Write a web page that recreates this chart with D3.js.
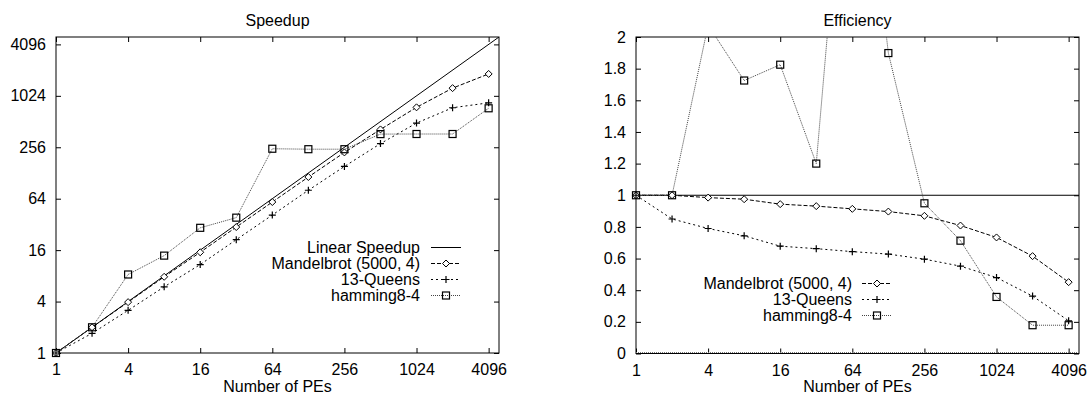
<!DOCTYPE html>
<html>
<head>
<meta charset="utf-8">
<script src="https://cdn.jsdelivr.net/npm/d3@7"></script>
<style>
  body { margin: 0; background: #fff; }
  text { font-family: "Liberation Sans", Arial, Helvetica, sans-serif; font-size: 16px; fill: #000; }
</style>
</head>
<body>
<svg id="chart" width="1087" height="394"></svg>
<script>
// number of processing elements
const pes = [1, 2, 4, 8, 16, 32, 64, 128, 256, 512, 1024, 2048, 4096];

const mandelbrot = [1, 2, 3.94, 7.8, 15.1, 29.8, 58.5, 114.8, 222.7, 414, 751, 1260, 1847];
const queens = [1, 1.7, 3.16, 5.95, 10.85, 21.2, 41.2, 80.4, 152.6, 282.6, 491.5, 743, 848];
const hamming = [1, 2, 8.3, 13.8, 29.2, 38.4, 246, 243, 243, 365, 366, 366, 732];

// ideal line y = x
const linearX = [1, 5000];
const linearY = [1, 5000];

const xTicks = [1, 4, 16, 64, 256, 1024, 4096];
const speedupTicks = [1, 4, 16, 64, 256, 1024, 4096];
const effTicks = [0, 0.2, 0.4, 0.6, 0.8, 1, 1.2, 1.4, 1.6, 1.8, 2];

const seriesNames = ['Mandelbrot (5000, 4)', '13-Queens', 'hamming8-4'];
const seriesData = [mandelbrot, queens, hamming];
const seriesDash = ['4,2', '2,3', '1,1'];
const seriesColor = ['#000', '#000', '#444'];
const seriesMark = ['diamond', 'plus', 'square'];

const svg = d3.select('#chart');

function marker(g, type, x, y) {
  if (type === 'diamond') {
    g.append('path')
      .attr('d', `M${x},${y - 3.5}L${x + 3.5},${y}L${x},${y + 3.5}L${x - 3.5},${y}Z`)
      .attr('fill', '#fff').attr('stroke', '#000').attr('stroke-width', 1);
  } else if (type === 'plus') {
    g.append('path')
      .attr('d', `M${x - 3.5},${y}H${x + 3.5}M${x},${y - 3.5}V${y + 3.5}`)
      .attr('stroke', '#000').attr('stroke-width', 1.2);
  } else {
    g.append('rect')
      .attr('x', x - 3.5).attr('y', y - 3.5).attr('width', 7).attr('height', 7)
      .attr('fill', 'none').attr('stroke', '#000').attr('stroke-width', 1.2);
  }
}

function panel(opts) {
  const { left, right, top, bottom, y, yTicks, yFormat, title, id } = opts;
  const x = d3.scaleLog().base(2).domain([1, 5000]).range([left, right]);
  const g = svg.append('g');

  svg.append('clipPath').attr('id', id)
    .append('rect').attr('x', left).attr('y', top)
    .attr('width', right - left).attr('height', bottom - top);

  // axes with inward ticks, mirrored on top and right
  g.append('g').attr('transform', `translate(0,${bottom})`)
    .call(d3.axisBottom(x).tickValues(xTicks).tickFormat(d3.format('d')).tickSize(-5).tickPadding(11));
  g.append('g').attr('transform', `translate(0,${top})`)
    .call(d3.axisTop(x).tickValues(xTicks).tickFormat('').tickSize(-5));
  g.append('g').attr('transform', `translate(${left},0)`)
    .call(d3.axisLeft(y).tickValues(yTicks).tickFormat(yFormat).tickSize(-5).tickPadding(10));
  g.append('g').attr('transform', `translate(${right},0)`)
    .call(d3.axisRight(y).tickValues(yTicks).tickFormat('').tickSize(-5));
  g.selectAll('.domain').remove();
  g.selectAll('.tick line').attr('stroke', '#000');
  g.selectAll('.tick text').style('font-size', '16px').attr('fill', '#000')
    .style('font-family', '"Liberation Sans", Arial, sans-serif');

  g.append('rect').attr('x', left).attr('y', top)
    .attr('width', right - left).attr('height', bottom - top)
    .attr('fill', 'none').attr('stroke', '#000').attr('stroke-width', 1);

  g.append('text').attr('x', (left + right) / 2).attr('y', 25.5)
    .attr('text-anchor', 'middle').text(title);
  g.append('text').attr('x', (left + right) / 2).attr('y', 392)
    .attr('text-anchor', 'middle').text('Number of PEs');

  const plot = g.append('g').attr('clip-path', `url(#${id})`);
  return { x, plot, g };
}

// ---------- Speedup ----------
const ySp = d3.scaleLog().base(2).domain([1, 5000]).range([353, 37]);
const sp = panel({
  left: 56, right: 499, top: 37, bottom: 353, y: ySp,
  yTicks: speedupTicks, yFormat: d3.format('d'), title: 'Speedup', id: 'clipSp'
});

sp.plot.append('path')
  .datum(d3.zip(linearX, linearY))
  .attr('d', d3.line().x(d => sp.x(d[0])).y(d => ySp(d[1])))
  .attr('fill', 'none').attr('stroke', '#000').attr('stroke-width', 1);

seriesData.forEach((vals, i) => {
  const pts = d3.zip(pes, vals);
  sp.plot.append('path').datum(pts)
    .attr('d', d3.line().x(d => sp.x(d[0])).y(d => ySp(d[1])))
    .attr('fill', 'none').attr('stroke', seriesColor[i])
    .attr('stroke-dasharray', seriesDash[i]).attr('stroke-width', 1);
  pts.forEach(d => marker(sp.g, seriesMark[i], sp.x(d[0]), ySp(d[1])));
});

// legend
const legSp = sp.g.append('g');
const spNames = ['Linear Speedup'].concat(seriesNames);
spNames.forEach((name, i) => {
  const cy = 247.5 + i * 16;
  legSp.append('text').attr('x', 420).attr('y', cy + 5.5).attr('text-anchor', 'end').text(name);
  legSp.append('line').attr('x1', 431).attr('x2', 461).attr('y1', cy).attr('y2', cy)
    .attr('stroke', i === 0 ? '#000' : seriesColor[i - 1])
    .attr('stroke-dasharray', i === 0 ? null : seriesDash[i - 1]);
  if (i > 0) marker(legSp, seriesMark[i - 1], 446, cy);
});

// ---------- Efficiency ----------
const yEf = d3.scaleLinear().domain([0, 2]).range([353.5, 37]);
const ef = panel({
  left: 636, right: 1079, top: 37, bottom: 353.5, y: yEf,
  yTicks: effTicks, yFormat: d3.format('~g'), title: 'Efficiency', id: 'clipEf'
});

// ideal efficiency and zero line
ef.plot.append('line').attr('x1', 636).attr('x2', 1079)
  .attr('y1', yEf(1)).attr('y2', yEf(1)).attr('stroke', '#000');
ef.plot.append('line').attr('x1', 636).attr('x2', 1079)
  .attr('y1', yEf(0) - 1).attr('y2', yEf(0) - 1)
  .attr('stroke', '#777').attr('stroke-dasharray', '1,1');

seriesData.forEach((vals, i) => {
  const pts = pes.map((p, k) => [p, vals[k] / p]);
  ef.plot.append('path').datum(pts)
    .attr('d', d3.line().x(d => ef.x(d[0])).y(d => yEf(d[1])))
    .attr('fill', 'none').attr('stroke', seriesColor[i])
    .attr('stroke-dasharray', seriesDash[i]).attr('stroke-width', 1);
  pts.filter(d => d[1] <= 2).forEach(d => marker(ef.g, seriesMark[i], ef.x(d[0]), yEf(d[1])));
});

const legEf = ef.g.append('g');
seriesNames.forEach((name, i) => {
  const cy = 283.5 + i * 16;
  legEf.append('text').attr('x', 852).attr('y', cy + 5.5).attr('text-anchor', 'end').text(name);
  legEf.append('line').attr('x1', 862).attr('x2', 892).attr('y1', cy).attr('y2', cy)
    .attr('stroke', seriesColor[i]).attr('stroke-dasharray', seriesDash[i]);
  marker(legEf, seriesMark[i], 877, cy);
});
</script>
</body>
</html>
